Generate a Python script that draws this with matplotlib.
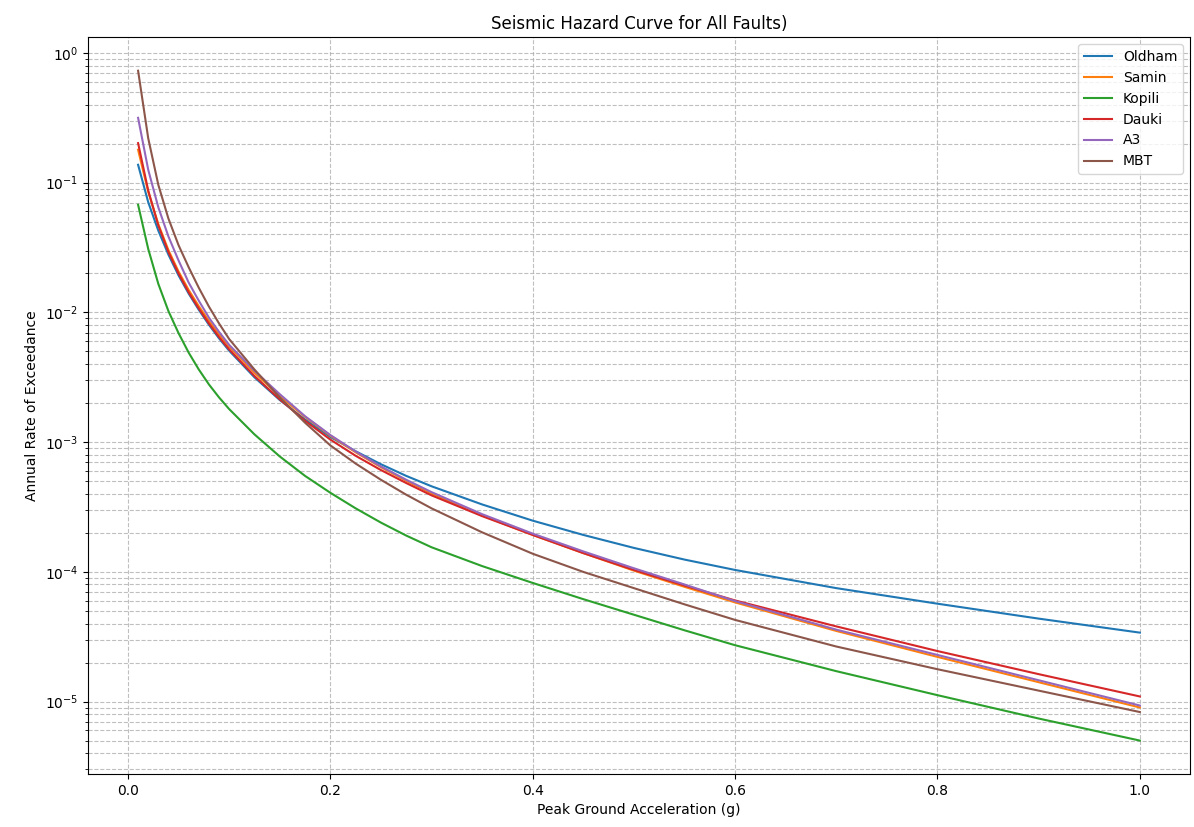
import matplotlib
matplotlib.use("Agg")
import matplotlib.pyplot as plt
import numpy as np

# PGA values (g)
pga = [0.01, 0.02, 0.03, 0.04, 0.05, 0.06, 0.07, 0.08, 0.09, 0.10,
       0.125, 0.15, 0.175, 0.20, 0.225, 0.25, 0.275, 0.30,
       0.35, 0.40, 0.45, 0.50, 0.55, 0.60,
       0.70, 0.80, 0.90, 1.00]

# log10 of the annual rate of exceedance
oldham_log = [-0.862, -1.15, -1.37, -1.555, -1.715, -1.855, -1.98, -2.095, -2.20, -2.295,
              -2.50, -2.675, -2.825, -2.96, -3.07, -3.17, -3.26, -3.34,
              -3.48, -3.605, -3.715, -3.815, -3.905, -3.985,
              -4.125, -4.245, -4.36, -4.468]
samin_log = [-0.746, -1.07, -1.32, -1.52, -1.685, -1.827, -1.952, -2.065, -2.168, -2.262,
             -2.465, -2.645, -2.805, -2.95, -3.078, -3.193, -3.298, -3.395,
             -3.565, -3.715, -3.855, -3.99, -4.115, -4.235,
             -4.455, -4.655, -4.85, -5.045]
kopili_log = [-1.17, -1.51, -1.78, -1.99, -2.16, -2.31, -2.44, -2.555, -2.655, -2.745,
              -2.94, -3.11, -3.26, -3.39, -3.51, -3.62, -3.72, -3.81,
              -3.955, -4.085, -4.21, -4.33, -4.45, -4.565,
              -4.765, -4.95, -5.13, -5.30]
dauki_log = [-0.695, -1.06, -1.33, -1.535, -1.70, -1.845, -1.97, -2.085, -2.19, -2.285,
             -2.49, -2.67, -2.835, -2.98, -3.105, -3.215, -3.315, -3.41,
             -3.57, -3.715, -3.855, -3.985, -4.105, -4.22,
             -4.42, -4.61, -4.788, -4.96]
a3_log = [-0.50, -0.90, -1.19, -1.415, -1.60, -1.77, -1.91, -2.04, -2.15, -2.25,
          -2.45, -2.63, -2.80, -2.945, -3.072, -3.187, -3.29, -3.385,
          -3.555, -3.705, -3.842, -3.972, -4.097, -4.225,
          -4.445, -4.64, -4.835, -5.03]
mbt_log = [-0.137, -0.657, -1.017, -1.277, -1.482, -1.652, -1.81, -1.955, -2.085, -2.205,
           -2.44, -2.655, -2.85, -3.025, -3.165, -3.29, -3.405, -3.51,
           -3.695, -3.86, -4.00, -4.125, -4.25, -4.37,
           -4.575, -4.75, -4.915, -5.08]

faults = {"Oldham": oldham_log, "Samin": samin_log, "Kopili": kopili_log,
          "Dauki": dauki_log, "A3": a3_log, "MBT": mbt_log}

fig = plt.figure(figsize=(11.94, 8.27), dpi=100)
for name, lg in faults.items():
    plt.plot(pga, 10 ** np.array(lg), label=name)

plt.yscale("log")
plt.title("Seismic Hazard Curve for All Faults)")
plt.xlabel("Peak Ground Acceleration (g)")
plt.ylabel("Annual Rate of Exceedance")
plt.grid(True, which="both", linestyle="--", alpha=0.8)
plt.legend(loc="upper right")
plt.subplots_adjust(left=0.0737, right=0.9966, top=0.955, bottom=0.064)
plt.savefig("out.png", dpi=100)
